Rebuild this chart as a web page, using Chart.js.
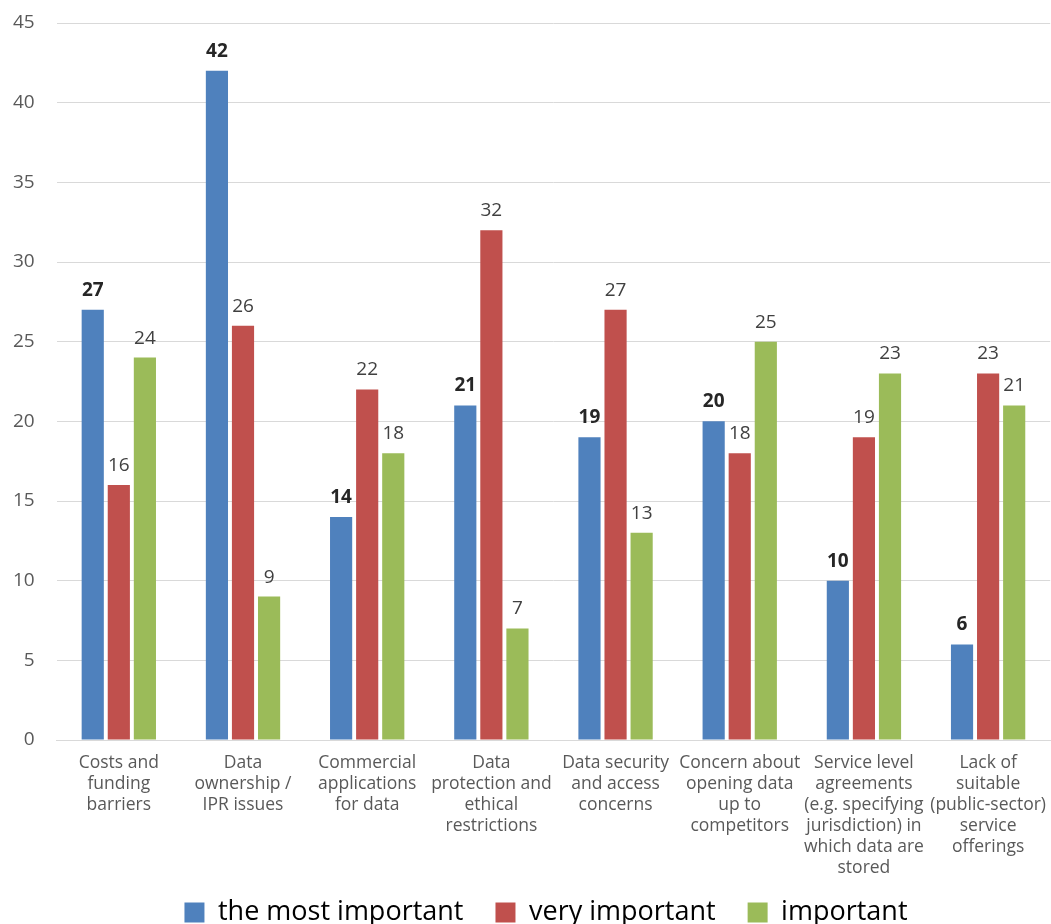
<!DOCTYPE html>
<html>
<head>
<meta charset="utf-8">
<script src="https://cdn.jsdelivr.net/npm/chart.js@4"></script>
<style>
  html, body { margin: 0; padding: 0; background: #fff; }
  #wrap { width: 1051px; height: 924px; }
</style>
</head>
<body>
<div id="wrap"><canvas id="barriersChart"></canvas></div>
<script>
const categories = [
    ['Costs and', 'funding', 'barriers'],
    ['Data', 'ownership /', 'IPR issues'],
    ['Commercial', 'applications', 'for data'],
    ['Data', 'protection and', 'ethical', 'restrictions'],
    ['Data security', 'and access', 'concerns'],
    ['Concern about', 'opening data', 'up to', 'competitors'],
    ['Service level', 'agreements', '(e.g. specifying', 'jurisdiction) in', 'which data are', 'stored'],
    ['Lack of', 'suitable', '(public-sector)', 'service', 'offerings']
];
const mostImportant = [27, 42, 14, 21, 19, 20, 10, 6];
const veryImportant = [16, 26, 22, 32, 27, 18, 19, 23];
const important = [24, 9, 18, 7, 13, 25, 23, 21];

const FONT = "'Open Sans', 'DejaVu Sans', sans-serif";

// draws the numbers above each bar
const valueLabels = {
    id: 'valueLabels',
    afterDatasetsDraw(chart) {
        const c = chart.ctx;
        c.save();
        c.textAlign = 'center';
        c.textBaseline = 'bottom';
        chart.data.datasets.forEach((ds, i) => {
            const meta = chart.getDatasetMeta(i);
            c.font = (i === 0 ? 'bold ' : '') + '19px ' + FONT;
            c.fillStyle = i === 0 ? '#262626' : '#404040';
            meta.data.forEach((bar, j) => {
                c.fillText(ds.data[j], bar.x, bar.y - 10);
            });
        });
        c.restore();
    }
};

// legend takes less room so the plot runs lower; its items overlap the
// space under the long axis labels, a bit right of centre
const legendShift = {
    id: 'legendShift',
    beforeInit(chart) {
        const fit = chart.legend.fit;
        chart.legend.fit = function () {
            fit.call(this);
            this.height -= 29;
        };
    },
    afterLayout(chart) {
        const lg = chart.legend;
        lg.top -= 17;
        lg.height += 17;
        lg.left += 16;
        lg.right += 16;
    }
};

const ctx = document.querySelector('#barriersChart').getContext('2d');
const barriersChart = new Chart(ctx, {
    type: 'bar',
    data: {
        labels: categories,
        datasets: [
            {
                label: 'the most important',
                data: mostImportant,
                backgroundColor: '#4F81BD'
            },
            {
                label: 'very important',
                data: veryImportant,
                backgroundColor: '#C0504D'
            },
            {
                label: 'important',
                data: important,
                backgroundColor: '#9BBB59'
            }
        ]
    },
    options: {
        responsive: true,
        maintainAspectRatio: false,
        animation: false,
        categoryPercentage: 0.63,
        barPercentage: 0.85,
        layout: {
            padding: { top: 23, right: 0, left: 9, bottom: 0 }
        },
        scales: {
            x: {
                grid: { display: false },
                border: { color: '#d9d9d9', width: 1 },
                ticks: {
                    color: '#595959',
                    font: { family: FONT, size: 17.5, lineHeight: 1.2 },
                    padding: 5,
                    maxRotation: 0,
                    autoSkip: false
                }
            },
            y: {
                min: 0,
                max: 45,
                border: { display: false },
                grid: { color: '#d9d9d9', drawTicks: true, tickLength: 18, tickColor: 'rgba(0,0,0,0)' },
                ticks: {
                    stepSize: 5,
                    color: '#595959',
                    font: { family: FONT, size: 19 },
                    padding: 4
                }
            }
        },
        plugins: {
            legend: {
                position: 'bottom',
                labels: {
                    color: '#000',
                    font: { family: FONT, size: 27 },
                    boxWidth: 20,
                    boxHeight: 20,
                    padding: 32
                }
            },
            tooltip: { enabled: false }
        }
    },
    plugins: [valueLabels, legendShift]
});
</script>
</body>
</html>
